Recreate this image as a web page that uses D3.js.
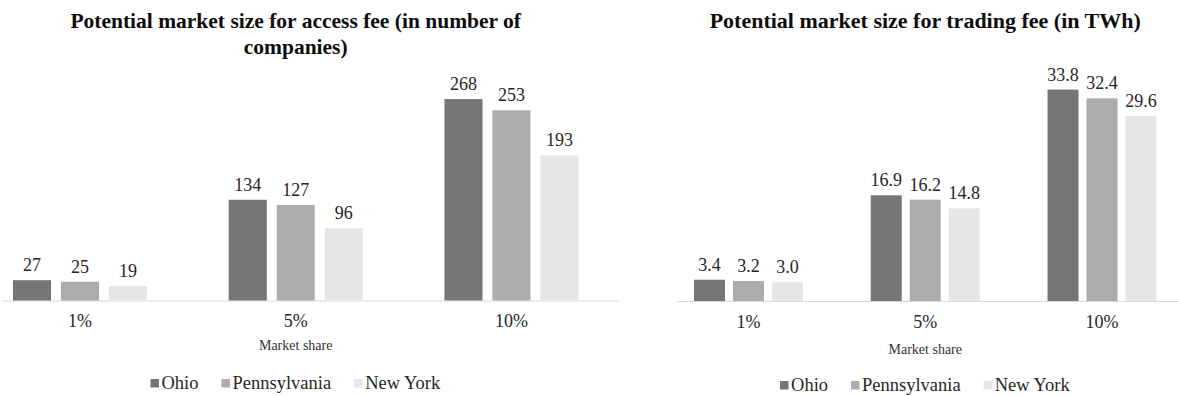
<!DOCTYPE html>
<html>
<head>
<meta charset="utf-8">
<script src="https://cdn.jsdelivr.net/npm/d3@7"></script>
<style>
  html, body { margin: 0; padding: 0; background: #fff; }
  svg { display: block; }
  text { font-family: "Liberation Serif", "Times New Roman", serif; }
</style>
</head>
<body>
<svg id="chart" width="1178" height="396"></svg>
<script>
// ---- data ----
const categories = ["1%", "5%", "10%"];
const seriesNames = ["Ohio", "Pennsylvania", "New York"];
const seriesColors = ["#767676", "#acacac", "#e6e6e6"];

const accessOhio = [27, 134, 268];
const accessPennsylvania = [25, 127, 253];
const accessNewYork = [19, 96, 193];

const tradingOhio = [3.4, 16.9, 33.8];
const tradingPennsylvania = [3.2, 16.2, 32.4];
const tradingNewYork = [3.0, 14.8, 29.6];

const xAxisTitle = "Market share";
const accessTitle = ["Potential market size for access fee (in number of", "companies)"];
const tradingTitle = ["Potential market size for trading fee (in TWh)"];

const svg = d3.select("#chart");

function drawChart(cfg) {
  const g = svg.append("g");
  const series = cfg.series;
  const x0 = d3.scaleBand().domain(categories).range(cfg.xRange).paddingInner(0).paddingOuter(0);
  const x1 = d3.scaleBand().domain(seriesNames).range([-cfg.groupHalf, cfg.groupHalf]).paddingInner(cfg.barPad).paddingOuter(0);
  const y = d3.scaleLinear().domain(cfg.yDomain).range(cfg.yRange);
  const center = x0(categories[1]) + x0.bandwidth() / 2;

  // title
  const t = g.append("text")
    .attr("x", center)
    .attr("text-anchor", "middle")
    .attr("font-weight", "bold")
    .attr("font-size", cfg.titleSize)
    .attr("fill", "#0d0d0d");
  cfg.title.forEach((line, i) => {
    t.append("tspan")
      .attr("x", center)
      .attr("y", cfg.titleY + i * 25.5)
      .text(line);
  });

  // axis line
  g.append("line")
    .attr("x1", cfg.axisX[0]).attr("x2", cfg.axisX[1])
    .attr("y1", y(0) + 0.5).attr("y2", y(0) + 0.5)
    .attr("stroke", "#d9d9d9").attr("stroke-width", 1.2);

  // bars
  const rows = [];
  categories.forEach((c, ci) => {
    seriesNames.forEach((s, si) => {
      rows.push({ cat: c, ser: s, si: si, v: series[si][ci] });
    });
  });
  const cx = d => x0(d.cat) + x0.bandwidth() / 2 + x1(d.ser);
  g.selectAll("rect.bar").data(rows).enter().append("rect")
    .attr("class", "bar")
    .attr("x", d => cx(d))
    .attr("width", x1.bandwidth())
    .attr("y", d => y(d.v))
    .attr("height", d => y(0) - y(d.v))
    .attr("fill", d => seriesColors[d.si]);

  // value labels
  g.selectAll("text.val").data(rows).enter().append("text")
    .attr("class", "val")
    .attr("x", d => cx(d) + x1.bandwidth() / 2)
    .attr("y", d => y(d.v) - 9)
    .attr("text-anchor", "middle")
    .attr("font-size", 18)
    .attr("fill", "#262626")
    .text(d => cfg.fmt(d.v));

  // category axis labels
  const ax = d3.axisBottom(x0).tickSize(0).tickPadding(0);
  const axG = g.append("g").attr("transform", `translate(0,${cfg.catY})`).call(ax);
  axG.select(".domain").remove();
  axG.selectAll("text")
    .attr("dy", 0).attr("y", 0)
    .attr("font-family", "Liberation Serif, Times New Roman, serif")
    .attr("font-size", 18)
    .attr("fill", "#262626");

  // axis title
  g.append("text")
    .attr("x", center)
    .attr("y", cfg.axTitleY)
    .attr("text-anchor", "middle")
    .attr("font-size", 14)
    .attr("fill", "#333")
    .text(xAxisTitle);

  // legend
  const lg = g.append("g");
  const items = lg.selectAll("g.item").data(seriesNames).enter().append("g").attr("class", "item");
  items.append("rect").attr("width", 8.5).attr("height", 8.5).attr("y", -10)
    .attr("fill", (d, i) => seriesColors[i]);
  items.append("text").attr("x", 11).attr("y", 0)
    .attr("font-size", 18.5).attr("fill", "#262626").text(d => d);
  let offset = 0;
  items.each(function () {
    const w = this.getBBox().width;
    d3.select(this).attr("transform", `translate(${offset},0)`);
    offset += w + 23;
  });
  const total = offset - 23;
  lg.attr("transform", `translate(${center - total / 2},${cfg.legendY})`);
}

drawChart({
  series: [accessOhio, accessPennsylvania, accessNewYork],
  xRange: [-27.9, 619.3],
  groupHalf: 67,
  barPad: 0.206,
  yDomain: [0, 300],
  yRange: [300.5, 75],
  axisX: [3, 619],
  title: accessTitle,
  titleSize: 21.5,
  titleY: 28,
  catY: 327,
  axTitleY: 350,
  legendY: 389,
  fmt: d3.format("d")
});

drawChart({
  series: [tradingOhio, tradingPennsylvania, tradingNewYork],
  xRange: [660.1, 1190.4],
  groupHalf: 54.5,
  barPad: 0.205,
  yDomain: [0, 40],
  yRange: [301, 50.8],
  axisX: [677, 1178],
  title: tradingTitle,
  titleSize: 22,
  titleY: 28,
  catY: 328,
  axTitleY: 354,
  legendY: 391,
  fmt: d3.format(".1f")
});
</script>
</body>
</html>
